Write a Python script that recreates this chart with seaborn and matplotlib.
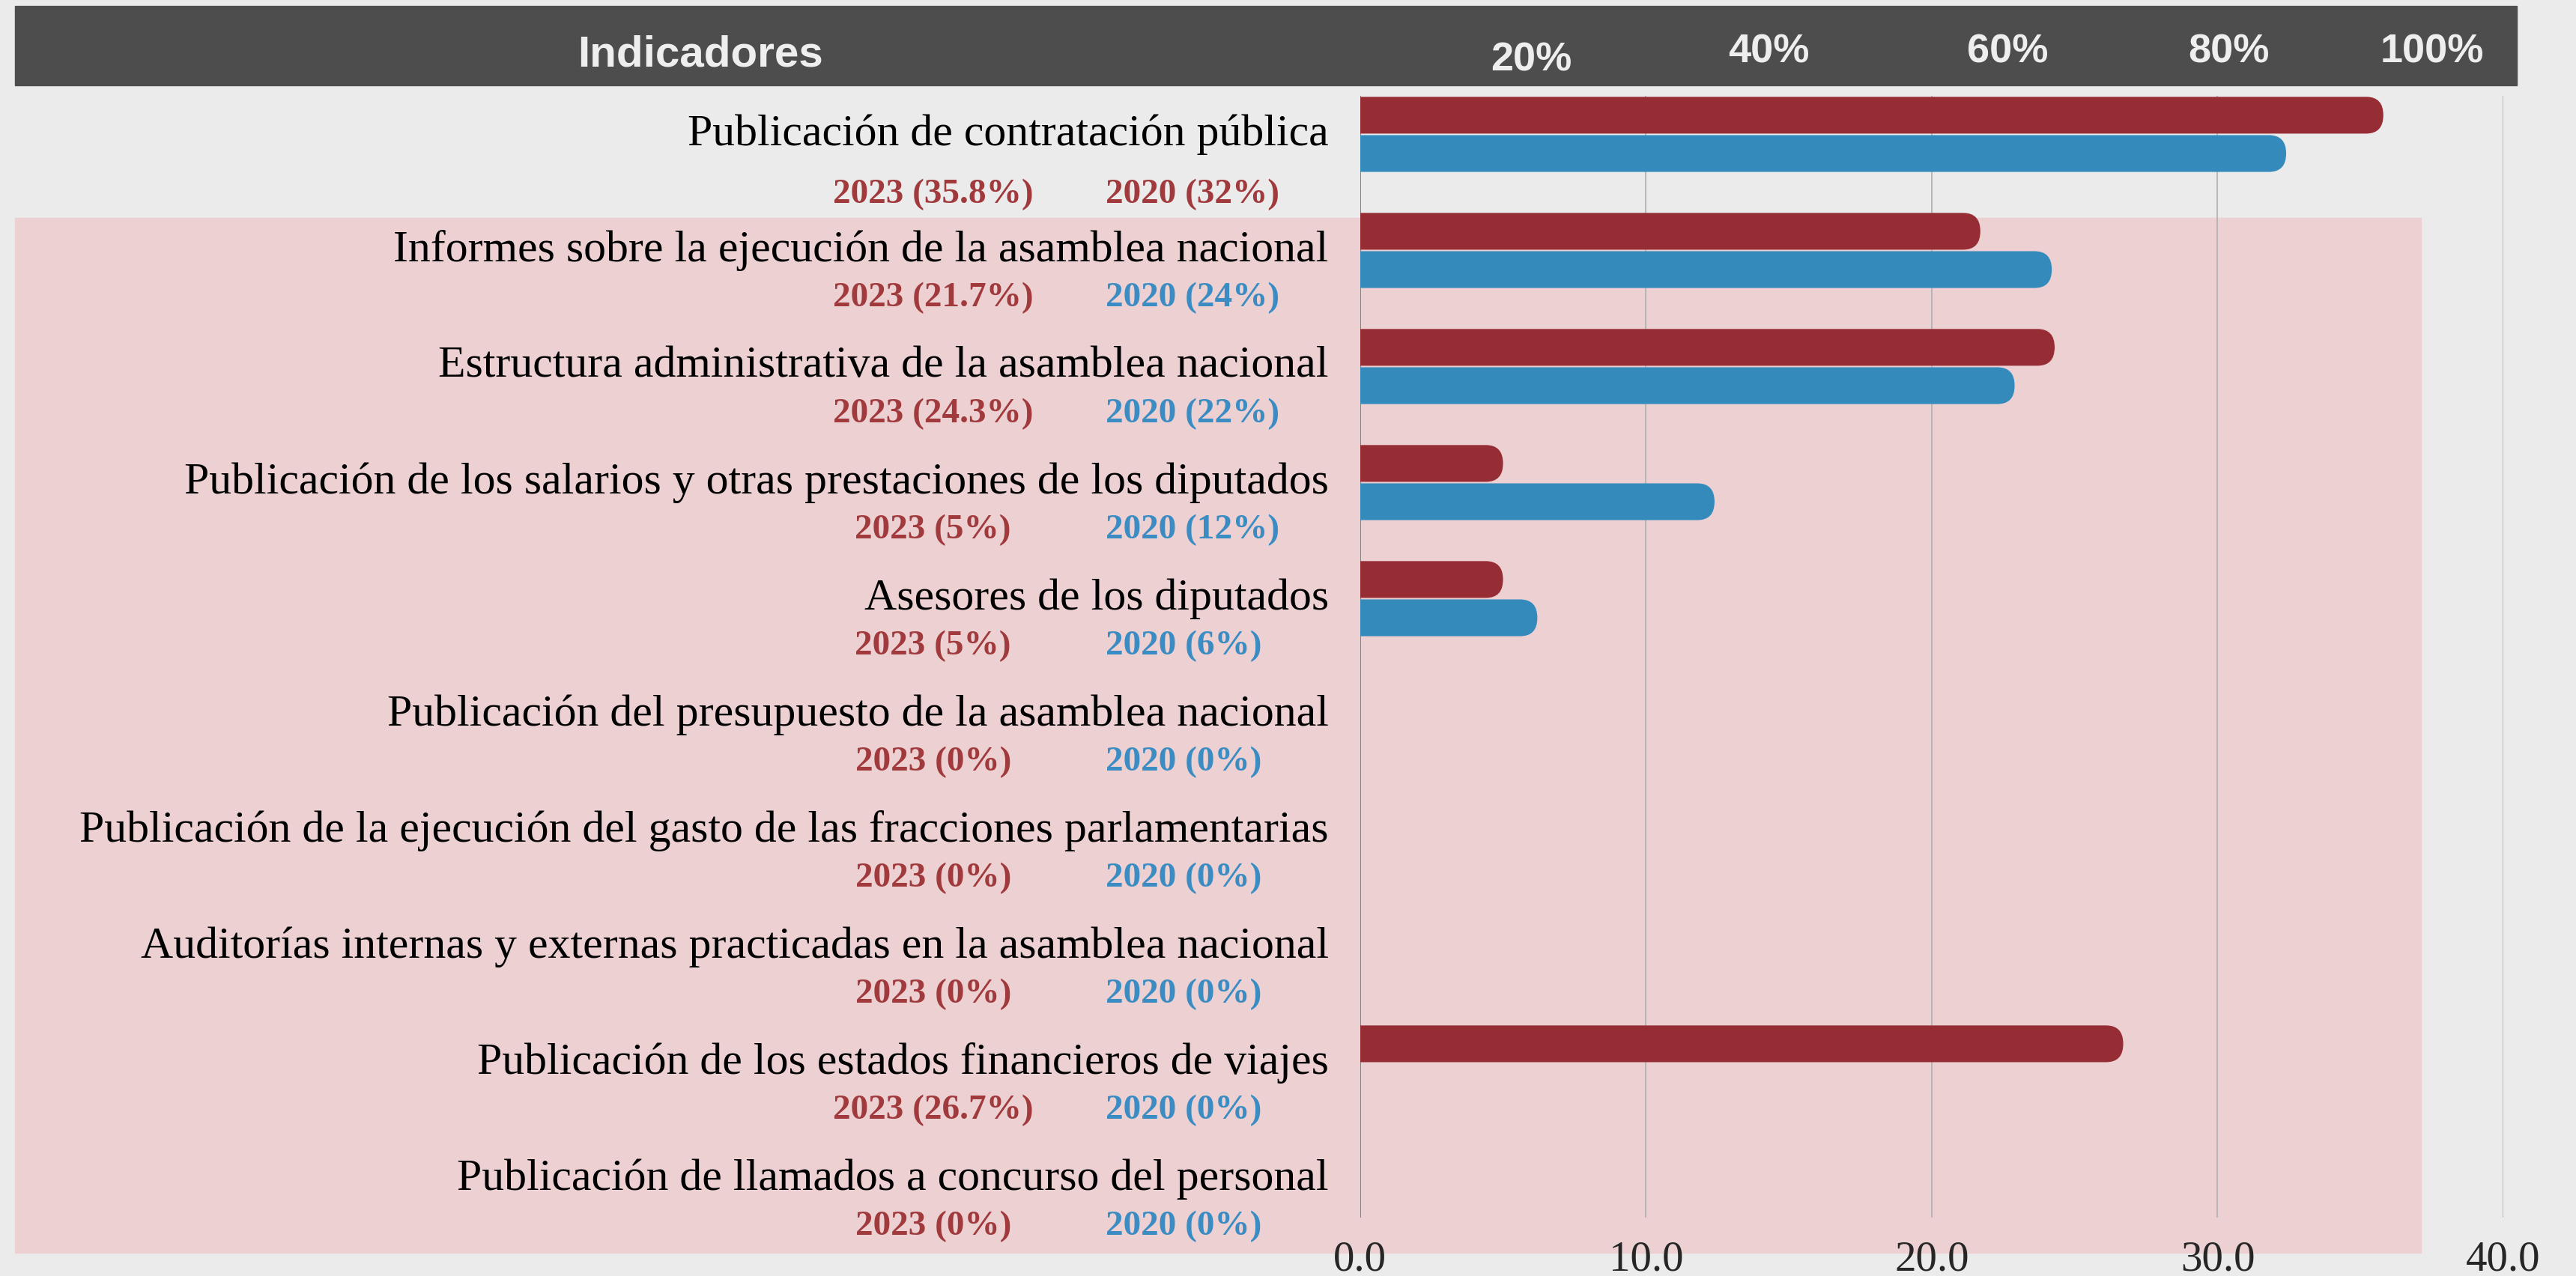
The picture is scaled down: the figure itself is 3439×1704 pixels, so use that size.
import numpy as np
import pandas as pd
import matplotlib.pyplot as plt
import seaborn as sns
from matplotlib.patches import Rectangle, FancyBboxPatch
from matplotlib.transforms import blended_transform_factory

# ---------------------------------------------
# Datos
# ---------------------------------------------
indicadores = [
    "Publicación de contratación pública",
    "Informes sobre la ejecución de la asamblea nacional",
    "Estructura administrativa de la asamblea nacional",
    "Publicación de los salarios y otras prestaciones de los diputados",
    "Asesores de los diputados",
    "Publicación del presupuesto de la asamblea nacional",
    "Publicación de la ejecución del gasto de las fracciones parlamentarias",
    "Auditorías internas y externas practicadas en la asamblea nacional",
    "Publicación de los estados financieros de viajes",
    "Publicación de llamados a concurso del personal",
]
anios = ["2023", "2020"]
valores_2023 = [35.8, 21.7, 24.3, 5.0, 5.0, 0, 0, 0, 26.7, 0]
valores_2020 = [32.4, 24.2, 22.9, 12.4, 6.2, 0, 0, 0, 0, 0]
etiquetas_2023 = ["35.8%", "21.7%", "24.3%", "5%", "5%", "0%", "0%", "0%", "26.7%", "0%"]
etiquetas_2020 = ["32%", "24%", "22%", "12%", "6%", "0%", "0%", "0%", "0%", "0%"]
pct_encabezado = ["20%", "40%", "60%", "80%", "100%"]
ticks_x = [0, 10, 20, 30, 40]

df = pd.DataFrame({
    "Indicador": indicadores * 2,
    "Año": [anios[0]] * len(indicadores) + [anios[1]] * len(indicadores),
    "Valor": valores_2023 + valores_2020,
})

rojo = "#962d35"
azul = "#338abb"
rojo_txt = "#a03a3d"
azul_txt = "#3a8cc2"
fondo = "#ebebeb"
rosa = "#ecd0d2"
gris_header = "#4d4d4d"

sns.set_style("white")
plt.rcParams["font.family"] = ["Liberation Serif", "DejaVu Serif"]

fig = plt.figure(figsize=(34.39, 17.04), dpi=100, facecolor=fondo)
ax = fig.add_axes([0.528, 0.0458, 0.4438, 0.8791])
ax.set_facecolor("none")

# fondos (banda del encabezado y zona rosada)
fig.add_artist(Rectangle((0.0058, 0.9331), 0.9712, 0.0622, transform=fig.transFigure,
                         color=gris_header, zorder=-2))
fig.add_artist(Rectangle((0.0058, 0.0182), 0.934, 0.8108, transform=fig.transFigure,
                         color=rosa, zorder=-2))

sns.barplot(data=df, y="Indicador", x="Valor", hue="Año", hue_order=anios,
            palette=[rojo, azul], width=0.66, gap=0.04, saturation=1,
            legend=False, ax=ax, zorder=3)

# extremos redondeados
r = 0.6
for p in list(ax.patches):
    x, y, w, h = p.get_x(), p.get_y(), p.get_width(), p.get_height()
    color = p.get_facecolor()
    p.remove()
    if w <= 0:
        continue
    aspect = (h / 2) / r
    ax.add_patch(FancyBboxPatch((x - r, y), w + r, h,
                                boxstyle=f"round,pad=0,rounding_size={r}",
                                mutation_aspect=aspect, facecolor=color,
                                edgecolor="none", zorder=3))

ax.set_xlim(0, 40)
ax.set_ylim(9.332, -0.332)
ax.set_xticks(ticks_x)
ax.set_xticklabels([f"{t:.1f}" for t in ticks_x], fontsize=41)
ax.set_yticks([])
ax.set_xlabel("")
ax.set_ylabel("")
ax.tick_params(axis="x", length=0, pad=22)
for s in ax.spines.values():
    s.set_visible(False)
for t in ticks_x:
    ax.axvline(t, color="#7a7a7a" if t == 0 else "#b3b3b3", lw=1.3, zorder=1)

# textos de categorías y valores
for i, nombre in enumerate(indicadores):
    ax.text(-1.1, i, nombre, ha="right", va="center", fontsize=43,
            color="black", clip_on=False)
    dy = 0.52 if i == 0 else 0.41
    ax.text(-14.94, i + dy, f"{anios[0]} ({etiquetas_2023[i]})", ha="center",
            va="center", fontsize=34, fontweight="bold", color=rojo_txt, clip_on=False)
    ax.text(-8.9, i + dy, f"{anios[1]} ({etiquetas_2020[i]})", ha="left",
            va="center", fontsize=34, fontweight="bold",
            color=rojo_txt if i == 0 else azul_txt, clip_on=False)

# encabezado
fig.text(0.272, 0.957, "Indicadores", ha="center", va="center", fontsize=42,
         fontweight="bold", color="#eeeeee", family=["Liberation Sans", "DejaVu Sans"])
trans = blended_transform_factory(ax.transData, fig.transFigure)
pos_x = [6.0, 14.3, 22.65, 30.4, 37.5]
for k, (px, lab) in enumerate(zip(pos_x, pct_encabezado)):
    ax.text(px, 0.953 if k == 0 else 0.959, lab, transform=trans, ha="center",
            va="center", fontsize=39, fontweight="bold", color="#eeeeee",
            family=["Liberation Sans", "DejaVu Sans"], clip_on=False)

plt.savefig("out.png", dpi=100, facecolor=fondo)
